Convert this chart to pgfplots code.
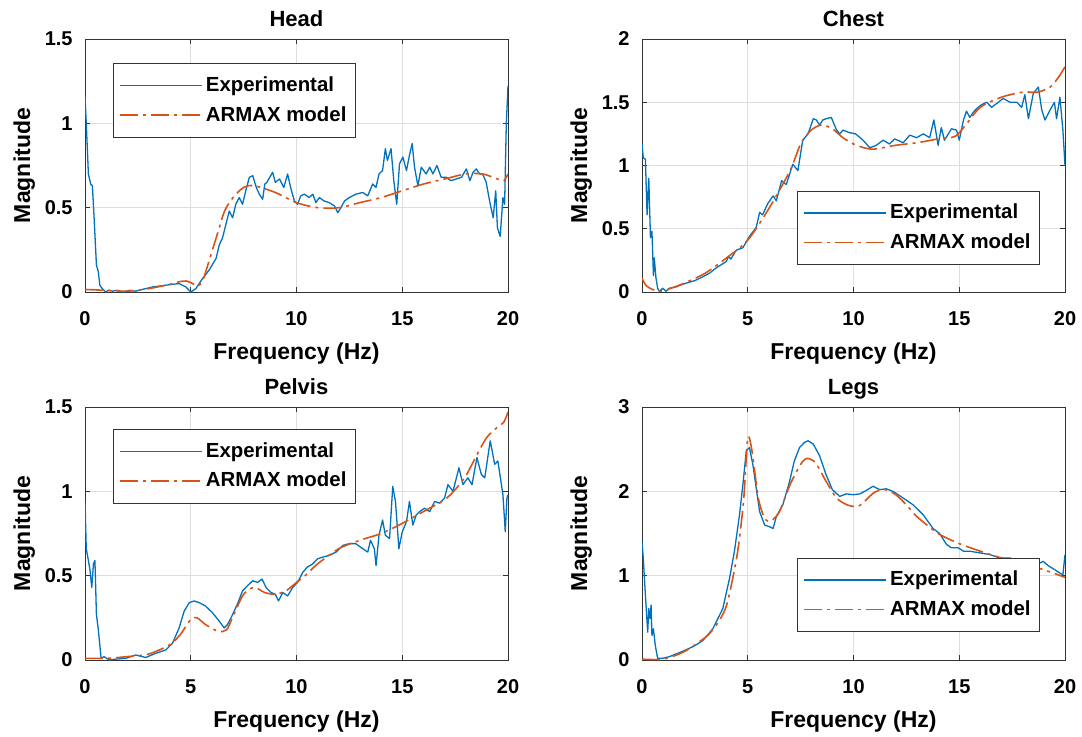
\documentclass[border=0pt]{standalone}
\usepackage{fontspec}
\setmainfont{Liberation Sans}
\usepackage{pgfplots}
\pgfplotsset{compat=1.18}
\definecolor{mblue}{rgb}{0,0.447,0.741}
\definecolor{morange}{rgb}{0.85,0.325,0.098}
\pgfplotsset{
  every axis title/.style={at={(axis description cs:0.5,1.0514)}, anchor=base, inner sep=0pt, font=\fontsize{11}{13}\selectfont\bfseries},
  panel/.style={
    width=211.5pt, height=126.5pt, scale only axis,
    anchor=south west,
    xmin=0, xmax=20, xtick={0,5,10,15,20},
    grid=major, major grid style={line width=0.4pt, draw=black!13},
    axis line style={line width=0.5pt, draw=black!80},
    tick style={line width=0.5pt, draw=black!80},
    tick align=inside, major tick length=2.5pt,
    /pgf/number format/assume math mode=true,
    ticklabel style={font=\fontsize{10}{12}\selectfont\bfseries},
    xticklabel style={inner sep=0pt, yshift=-9.5pt},
    yticklabel style={inner sep=0pt, xshift=-6pt},
    xlabel style={at={(axis description cs:0.5,-0.1976)}, anchor=north, inner sep=0pt, font=\fontsize{11.5}{13}\selectfont\bfseries},
    ylabel style={at={(axis description cs:-0.1702,0.5)}, rotate=0, anchor=north, inner sep=0pt, font=\fontsize{11.5}{13}\selectfont\bfseries},
    xlabel={Frequency (Hz)}, ylabel={Magnitude},
    legend cell align=left,
    legend style={draw=black!80, fill=white,
      font=\fontsize{10.2}{12}\selectfont\bfseries,
      inner xsep=3pt, inner ysep=5pt, row sep=3pt,
      nodes={inner sep=1.5pt}},
    legend image code/.code={\draw[#1] (0pt,0pt) -- (41pt,0pt);},
  },
  exp/.style={color=mblue, line width=0.65pt, line join=round},
  arm/.style={color=morange, line width=0.8pt, dash pattern=on 9pt off 2.5pt on 1.5pt off 2.5pt},
}
\begin{document}
\begin{tikzpicture}
% ---------------- Head ----------------
\begin{axis}[panel, at={(42.5pt,222pt)}, title={Head},
  ymin=0, ymax=1.5, ytick={0,0.5,1,1.5},
  legend style={at={(0.066,0.905)}, anchor=north west}]
\addplot[exp] coordinates {(0,1.16)(0.06,1.0)(0.16,0.70)(0.27,0.64)(0.35,0.63)(0.43,0.44)(0.54,0.16)(0.63,0.12)(0.70,0.04)(0.82,0.02)(0.98,0.0)(1.1,0.01)(1.3,0.005)(1.5,0.01)(1.8,0.0)(2.1,0.01)(2.4,0.005)(2.7,0.015)(2.87,0.02)(3.2,0.03)(3.5,0.035)(3.8,0.04)(4.1,0.045)(4.45,0.05)(4.77,0.03)(5.0,0.0)(5.24,0.02)(5.56,0.08)(5.87,0.13)(6.2,0.2)(6.35,0.28)(6.5,0.32)(6.66,0.40)(6.82,0.48)(6.98,0.44)(7.13,0.52)(7.29,0.56)(7.45,0.52)(7.6,0.60)(7.77,0.68)(7.93,0.69)(8.1,0.62)(8.24,0.58)(8.4,0.55)(8.5,0.64)(8.6,0.65)(8.87,0.71)(9.0,0.65)(9.2,0.67)(9.4,0.62)(9.58,0.70)(9.74,0.61)(9.9,0.54)(10.05,0.52)(10.2,0.57)(10.37,0.58)(10.6,0.56)(10.77,0.58)(10.92,0.53)(11.08,0.56)(11.3,0.54)(11.55,0.53)(11.8,0.51)(11.95,0.47)(12.1,0.50)(12.27,0.54)(12.5,0.56)(12.8,0.58)(13.13,0.59)(13.37,0.57)(13.6,0.64)(13.76,0.62)(13.9,0.70)(14.07,0.72)(14.2,0.85)(14.3,0.78)(14.47,0.85)(14.6,0.66)(14.74,0.52)(14.87,0.76)(15.03,0.80)(15.2,0.72)(15.34,0.81)(15.47,0.88)(15.58,0.74)(15.74,0.63)(15.9,0.74)(16.13,0.70)(16.3,0.74)(16.45,0.70)(16.64,0.75)(16.84,0.68)(17.08,0.68)(17.3,0.66)(17.55,0.67)(17.8,0.68)(18.03,0.73)(18.2,0.66)(18.35,0.71)(18.5,0.73)(18.66,0.70)(18.8,0.70)(18.97,0.65)(19.13,0.54)(19.3,0.44)(19.42,0.60)(19.5,0.38)(19.63,0.33)(19.76,0.56)(19.84,0.52)(19.92,1.0)(20,1.22)};
\addlegendentry{Experimental}
\addplot[arm, smooth, tension=0.5] coordinates {(0,0.015)(1,0.01)(2,0.005)(3,0.02)(4,0.045)(4.5,0.062)(4.8,0.065)(5,0.056)(5.35,0.036)(5.6,0.08)(6,0.24)(6.3,0.36)(6.6,0.48)(7,0.56)(7.5,0.62)(8,0.63)(9,0.59)(10,0.53)(11,0.50)(12,0.50)(13,0.53)(14,0.56)(15,0.60)(16,0.64)(17,0.67)(18,0.70)(18.8,0.70)(19.5,0.67)(19.8,0.66)(20,0.70)};
\addlegendentry{ARMAX model}
\end{axis}
% ---------------- Chest ----------------
\begin{axis}[panel, at={(321pt,222pt)}, title={Chest},
  ymin=0, ymax=2, ytick={0,0.5,1,1.5,2},
  legend style={at={(0.941,0.107)}, anchor=south east}]
\addplot[exp] coordinates {(0,1.17)(0.06,1.06)(0.16,1.05)(0.24,0.61)(0.32,0.90)(0.40,0.43)(0.47,0.48)(0.54,0.13)(0.58,0.27)(0.66,0.11)(0.74,0.03)(0.82,0.005)(0.98,0.03)(1.14,0.005)(1.3,0.03)(1.6,0.04)(2.08,0.07)(2.5,0.09)(2.87,0.12)(3.2,0.15)(3.5,0.19)(3.98,0.24)(4.1,0.28)(4.2,0.26)(4.45,0.33)(4.77,0.35)(5.08,0.44)(5.4,0.51)(5.56,0.63)(5.7,0.61)(5.95,0.70)(6.2,0.76)(6.35,0.72)(6.6,0.88)(6.82,0.85)(7.13,1.01)(7.37,0.96)(7.6,1.20)(7.85,1.25)(8.1,1.37)(8.24,1.36)(8.4,1.32)(8.55,1.36)(8.7,1.37)(8.95,1.38)(9.2,1.28)(9.35,1.25)(9.5,1.28)(9.8,1.26)(10.1,1.25)(10.45,1.20)(10.77,1.14)(11.08,1.16)(11.4,1.20)(11.7,1.17)(11.95,1.21)(12.35,1.18)(12.66,1.24)(12.98,1.22)(13.3,1.25)(13.6,1.22)(13.8,1.36)(14.0,1.16)(14.15,1.30)(14.3,1.20)(14.63,1.29)(14.87,1.28)(15.0,1.20)(15.2,1.36)(15.34,1.43)(15.5,1.38)(15.66,1.42)(15.82,1.45)(16.05,1.48)(16.3,1.50)(16.53,1.46)(16.77,1.49)(17.08,1.53)(17.4,1.50)(17.72,1.50)(17.95,1.46)(18.1,1.56)(18.27,1.37)(18.5,1.57)(18.74,1.62)(18.9,1.44)(19.05,1.36)(19.3,1.44)(19.5,1.50)(19.6,1.37)(19.76,1.54)(19.9,1.28)(20,1.0)};
\addlegendentry{Experimental}
\addplot[arm, smooth, tension=0.5] coordinates {(0,0.11)(0.2,0.05)(0.5,0.02)(0.8,0.005)(1.2,0.02)(2,0.07)(3,0.15)(4,0.27)(5,0.41)(6,0.66)(7,0.96)(7.5,1.17)(8,1.28)(8.5,1.32)(9,1.29)(9.5,1.22)(10,1.17)(10.5,1.14)(11,1.13)(12,1.16)(13,1.18)(14,1.21)(14.8,1.23)(15.3,1.32)(16,1.46)(17,1.54)(18,1.58)(18.7,1.58)(19.3,1.62)(19.7,1.70)(20,1.78)};
\addlegendentry{ARMAX model}
\end{axis}
% ---------------- Pelvis ----------------
\begin{axis}[panel, at={(42.5pt,38pt)}, title={Pelvis},
  ymin=0, ymax=1.5, ytick={0,0.5,1,1.5},
  legend style={at={(0.066,0.913)}, anchor=north west}]
\addplot[exp] coordinates {(0,0.94)(0.06,0.66)(0.16,0.59)(0.24,0.53)(0.32,0.43)(0.40,0.57)(0.47,0.59)(0.54,0.27)(0.62,0.19)(0.70,0.09)(0.76,0.01)(0.9,0.02)(1.14,0.0)(1.45,0.005)(1.93,0.01)(2.4,0.03)(2.87,0.015)(3.35,0.04)(3.82,0.06)(4.14,0.10)(4.45,0.19)(4.69,0.29)(4.93,0.34)(5.16,0.35)(5.4,0.34)(5.7,0.32)(6.03,0.28)(6.35,0.23)(6.58,0.19)(6.74,0.21)(6.98,0.27)(7.2,0.33)(7.45,0.41)(7.68,0.44)(7.93,0.47)(8.17,0.46)(8.37,0.48)(8.56,0.43)(8.8,0.40)(9.0,0.39)(9.15,0.35)(9.35,0.40)(9.58,0.38)(9.82,0.43)(10.05,0.46)(10.3,0.52)(10.5,0.55)(10.77,0.57)(11.0,0.60)(11.24,0.61)(11.55,0.62)(11.87,0.64)(12.2,0.68)(12.5,0.69)(12.8,0.69)(13.13,0.66)(13.37,0.64)(13.5,0.71)(13.68,0.66)(13.76,0.56)(13.9,0.74)(14.07,0.83)(14.2,0.74)(14.4,0.72)(14.55,1.03)(14.68,0.94)(14.84,0.66)(15.0,0.76)(15.2,0.82)(15.34,0.94)(15.5,0.80)(15.66,0.86)(15.82,0.88)(16.05,0.90)(16.3,0.88)(16.53,0.94)(16.77,0.93)(17.0,0.96)(17.16,1.04)(17.4,1.00)(17.68,1.14)(17.87,1.04)(18.1,1.08)(18.3,1.04)(18.53,1.20)(18.74,1.10)(18.9,1.08)(19.16,1.30)(19.37,1.16)(19.52,1.18)(19.64,1.08)(19.76,0.98)(19.87,0.76)(19.95,0.96)(20,0.98)};
\addlegendentry{Experimental}
\addplot[arm, smooth, tension=0.5] coordinates {(0,0.01)(1,0.01)(2,0.02)(3,0.035)(4,0.09)(4.5,0.15)(5,0.24)(5.3,0.25)(5.7,0.21)(6.3,0.17)(6.7,0.18)(7,0.26)(7.5,0.39)(8,0.43)(8.5,0.40)(9,0.39)(9.5,0.41)(10,0.46)(10.5,0.51)(11,0.57)(12,0.66)(13,0.71)(14,0.75)(15,0.81)(16,0.88)(17,0.95)(17.5,1.01)(18,1.09)(18.5,1.21)(19,1.32)(19.5,1.38)(19.8,1.41)(20,1.47)};
\addlegendentry{ARMAX model}
\end{axis}
% ---------------- Legs ----------------
\begin{axis}[panel, at={(321pt,38pt)}, title={Legs},
  ymin=0, ymax=3, ytick={0,1,2,3},
  legend style={at={(0.941,0.111)}, anchor=south east}]
\addplot[exp] coordinates {(0,1.40)(0.06,1.21)(0.16,0.77)(0.27,0.33)(0.32,0.61)(0.38,0.49)(0.43,0.65)(0.47,0.29)(0.54,0.37)(0.63,0.17)(0.74,0.02)(0.98,0.02)(1.3,0.04)(1.7,0.08)(2.08,0.12)(2.5,0.17)(2.87,0.23)(3.35,0.37)(3.82,0.61)(4.14,0.97)(4.37,1.29)(4.61,1.72)(4.77,2.08)(4.93,2.48)(5.08,2.52)(5.24,2.32)(5.4,2.04)(5.56,1.76)(5.8,1.60)(6.03,1.58)(6.2,1.56)(6.35,1.70)(6.66,1.84)(6.98,2.12)(7.2,2.36)(7.45,2.52)(7.68,2.58)(7.85,2.60)(8.1,2.56)(8.4,2.42)(8.7,2.20)(9.0,2.02)(9.35,1.94)(9.66,1.97)(10.0,1.96)(10.3,1.97)(10.6,2.01)(10.92,2.06)(11.24,2.02)(11.55,2.03)(11.87,2.00)(12.35,1.92)(12.82,1.84)(13.3,1.72)(13.76,1.56)(14.07,1.50)(14.4,1.37)(14.63,1.33)(14.95,1.33)(15.2,1.29)(15.5,1.29)(15.98,1.27)(16.45,1.25)(16.92,1.21)(17.4,1.21)(17.87,1.16)(18.27,1.13)(18.66,1.13)(18.97,1.17)(19.2,1.12)(19.52,1.07)(19.76,1.03)(19.9,1.01)(20,1.25)};
\addlegendentry{Experimental}
\addplot[arm, smooth, tension=0.45] coordinates {(0,0.01)(1,0.01)(2,0.10)(3,0.27)(3.5,0.41)(4,0.65)(4.5,1.25)(4.8,1.88)(5,2.63)(5.2,2.48)(5.5,1.92)(5.8,1.68)(6.1,1.65)(6.5,1.76)(7,2.08)(7.5,2.32)(7.8,2.39)(8.2,2.34)(8.7,2.12)(9.2,1.92)(9.7,1.84)(10.2,1.82)(10.6,1.90)(11,1.99)(11.5,2.02)(12,1.96)(12.5,1.84)(13,1.70)(14,1.50)(15,1.38)(16,1.29)(17,1.21)(18,1.14)(19,1.07)(20,0.98)};
\addlegendentry{ARMAX model}
\end{axis}
\pgfresetboundingbox
\path (0,0) rectangle (541pt,368pt);
\end{tikzpicture}
\end{document}
